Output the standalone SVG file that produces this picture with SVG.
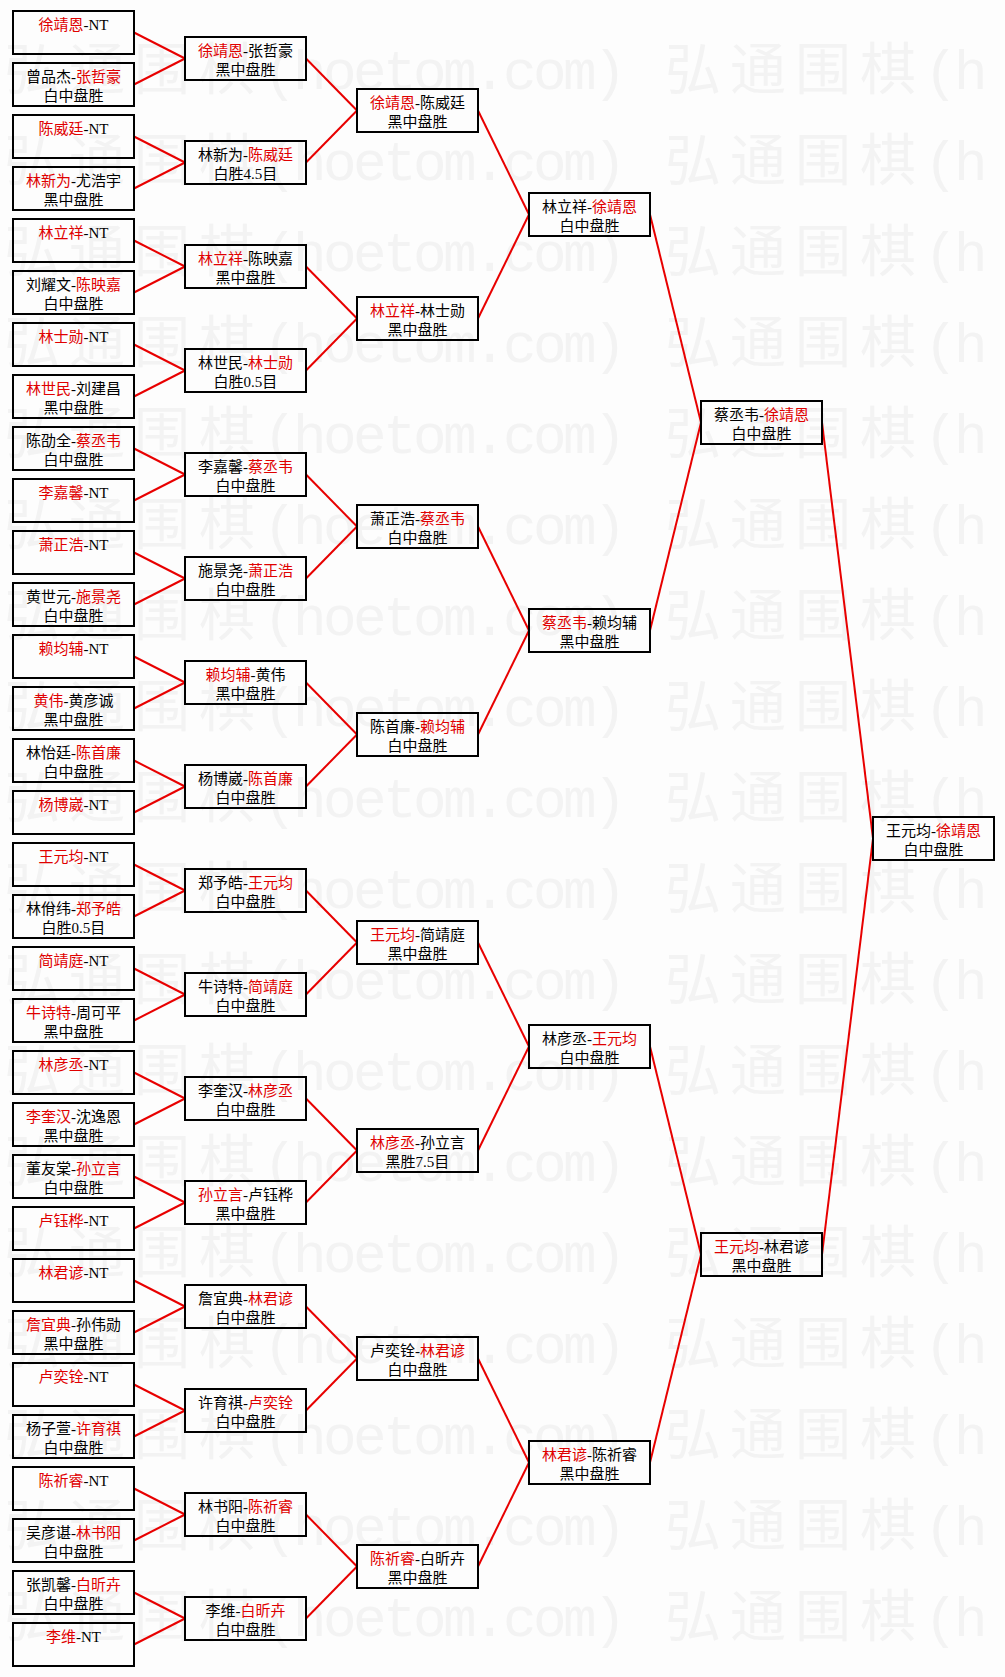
<svg xmlns="http://www.w3.org/2000/svg" xmlns:xlink="http://www.w3.org/1999/xlink" width="1005" height="1677" viewBox="0 0 1005 1677">
<style>
.bg{fill:#fdfdfd}
.wm{font-family:"Liberation Mono","Noto Sans CJK SC",monospace;font-size:56px;fill:#f3f3f3}
.box{fill:none;stroke:#000;stroke-width:2}
.t{font-family:"Liberation Serif","Noto Sans CJK SC",serif;font-size:15px;fill:#000;text-anchor:middle}
.w{fill:#e00000}
.c line{stroke:#e80000;stroke-width:2}
</style>
<defs>
<text id="wmrow" class="wm" x="4 69 134 199 263 293 323 353 383 413 443 473 503 533 563 593 665 730 795 860 924 954" y="0">弘通围棋(hoetom.com)弘通围棋(h</text>
</defs>
<rect class="bg" x="0" y="0" width="1005" height="1677"/>
<g id="watermark">
<use xlink:href="#wmrow" y="89"/><use xlink:href="#wmrow" y="180"/><use xlink:href="#wmrow" y="271"/><use xlink:href="#wmrow" y="362"/><use xlink:href="#wmrow" y="453"/><use xlink:href="#wmrow" y="544"/><use xlink:href="#wmrow" y="635"/><use xlink:href="#wmrow" y="726"/><use xlink:href="#wmrow" y="817"/><use xlink:href="#wmrow" y="908"/><use xlink:href="#wmrow" y="999"/><use xlink:href="#wmrow" y="1090"/><use xlink:href="#wmrow" y="1181"/><use xlink:href="#wmrow" y="1272"/><use xlink:href="#wmrow" y="1363"/><use xlink:href="#wmrow" y="1454"/><use xlink:href="#wmrow" y="1545"/><use xlink:href="#wmrow" y="1636"/>
</g>
<g id="connectors" class="c">
<line x1="134" y1="32.5" x2="185" y2="58.5"/><line x1="134" y1="84.5" x2="185" y2="58.5"/>
<line x1="134" y1="136.5" x2="185" y2="162.5"/><line x1="134" y1="188.5" x2="185" y2="162.5"/>
<line x1="134" y1="240.5" x2="185" y2="266.5"/><line x1="134" y1="292.5" x2="185" y2="266.5"/>
<line x1="134" y1="344.5" x2="185" y2="370.5"/><line x1="134" y1="396.5" x2="185" y2="370.5"/>
<line x1="134" y1="448.5" x2="185" y2="474.5"/><line x1="134" y1="500.5" x2="185" y2="474.5"/>
<line x1="134" y1="552.5" x2="185" y2="578.5"/><line x1="134" y1="604.5" x2="185" y2="578.5"/>
<line x1="134" y1="656.5" x2="185" y2="682.5"/><line x1="134" y1="708.5" x2="185" y2="682.5"/>
<line x1="134" y1="760.5" x2="185" y2="786.5"/><line x1="134" y1="812.5" x2="185" y2="786.5"/>
<line x1="134" y1="864.5" x2="185" y2="890.5"/><line x1="134" y1="916.5" x2="185" y2="890.5"/>
<line x1="134" y1="968.5" x2="185" y2="994.5"/><line x1="134" y1="1020.5" x2="185" y2="994.5"/>
<line x1="134" y1="1072.5" x2="185" y2="1098.5"/><line x1="134" y1="1124.5" x2="185" y2="1098.5"/>
<line x1="134" y1="1176.5" x2="185" y2="1202.5"/><line x1="134" y1="1228.5" x2="185" y2="1202.5"/>
<line x1="134" y1="1280.5" x2="185" y2="1306.5"/><line x1="134" y1="1332.5" x2="185" y2="1306.5"/>
<line x1="134" y1="1384.5" x2="185" y2="1410.5"/><line x1="134" y1="1436.5" x2="185" y2="1410.5"/>
<line x1="134" y1="1488.5" x2="185" y2="1514.5"/><line x1="134" y1="1540.5" x2="185" y2="1514.5"/>
<line x1="134" y1="1592.5" x2="185" y2="1618.5"/><line x1="134" y1="1644.5" x2="185" y2="1618.5"/>
<line x1="306" y1="58.5" x2="357" y2="110.5"/><line x1="306" y1="162.5" x2="357" y2="110.5"/>
<line x1="306" y1="266.5" x2="357" y2="318.5"/><line x1="306" y1="370.5" x2="357" y2="318.5"/>
<line x1="306" y1="474.5" x2="357" y2="526.5"/><line x1="306" y1="578.5" x2="357" y2="526.5"/>
<line x1="306" y1="682.5" x2="357" y2="734.5"/><line x1="306" y1="786.5" x2="357" y2="734.5"/>
<line x1="306" y1="890.5" x2="357" y2="942.5"/><line x1="306" y1="994.5" x2="357" y2="942.5"/>
<line x1="306" y1="1098.5" x2="357" y2="1150.5"/><line x1="306" y1="1202.5" x2="357" y2="1150.5"/>
<line x1="306" y1="1306.5" x2="357" y2="1358.5"/><line x1="306" y1="1410.5" x2="357" y2="1358.5"/>
<line x1="306" y1="1514.5" x2="357" y2="1566.5"/><line x1="306" y1="1618.5" x2="357" y2="1566.5"/>
<line x1="478" y1="110.5" x2="529" y2="214.5"/><line x1="478" y1="318.5" x2="529" y2="214.5"/>
<line x1="478" y1="526.5" x2="529" y2="630.5"/><line x1="478" y1="734.5" x2="529" y2="630.5"/>
<line x1="478" y1="942.5" x2="529" y2="1046.5"/><line x1="478" y1="1150.5" x2="529" y2="1046.5"/>
<line x1="478" y1="1358.5" x2="529" y2="1462.5"/><line x1="478" y1="1566.5" x2="529" y2="1462.5"/>
<line x1="650" y1="214.5" x2="701" y2="422.5"/><line x1="650" y1="630.5" x2="701" y2="422.5"/>
<line x1="650" y1="1046.5" x2="701" y2="1254.5"/><line x1="650" y1="1462.5" x2="701" y2="1254.5"/>
<line x1="822" y1="422.5" x2="873" y2="838.5"/><line x1="822" y1="1254.5" x2="873" y2="838.5"/>
</g>
<g id="round1">
<g id="n1-0" transform="translate(13,11)"><rect class="box" width="121" height="43"/><text class="t" x="60.5" y="18.5"><tspan class="w">徐靖恩</tspan>-NT</text></g>
<g id="n1-1" transform="translate(13,63)"><rect class="box" width="121" height="43"/><text class="t" x="60.5" y="18.5">曾品杰-<tspan class="w">张哲豪</tspan></text><text class="t" x="60.5" y="38">白中盘胜</text></g>
<g id="n1-2" transform="translate(13,115)"><rect class="box" width="121" height="43"/><text class="t" x="60.5" y="18.5"><tspan class="w">陈威廷</tspan>-NT</text></g>
<g id="n1-3" transform="translate(13,167)"><rect class="box" width="121" height="43"/><text class="t" x="60.5" y="18.5"><tspan class="w">林新为</tspan>-尤浩宇</text><text class="t" x="60.5" y="38">黑中盘胜</text></g>
<g id="n1-4" transform="translate(13,219)"><rect class="box" width="121" height="43"/><text class="t" x="60.5" y="18.5"><tspan class="w">林立祥</tspan>-NT</text></g>
<g id="n1-5" transform="translate(13,271)"><rect class="box" width="121" height="43"/><text class="t" x="60.5" y="18.5">刘耀文-<tspan class="w">陈映嘉</tspan></text><text class="t" x="60.5" y="38">白中盘胜</text></g>
<g id="n1-6" transform="translate(13,323)"><rect class="box" width="121" height="43"/><text class="t" x="60.5" y="18.5"><tspan class="w">林士勋</tspan>-NT</text></g>
<g id="n1-7" transform="translate(13,375)"><rect class="box" width="121" height="43"/><text class="t" x="60.5" y="18.5"><tspan class="w">林世民</tspan>-刘建昌</text><text class="t" x="60.5" y="38">黑中盘胜</text></g>
<g id="n1-8" transform="translate(13,427)"><rect class="box" width="121" height="43"/><text class="t" x="60.5" y="18.5">陈劭全-<tspan class="w">蔡丞韦</tspan></text><text class="t" x="60.5" y="38">白中盘胜</text></g>
<g id="n1-9" transform="translate(13,479)"><rect class="box" width="121" height="43"/><text class="t" x="60.5" y="18.5"><tspan class="w">李嘉馨</tspan>-NT</text></g>
<g id="n1-10" transform="translate(13,531)"><rect class="box" width="121" height="43"/><text class="t" x="60.5" y="18.5"><tspan class="w">萧正浩</tspan>-NT</text></g>
<g id="n1-11" transform="translate(13,583)"><rect class="box" width="121" height="43"/><text class="t" x="60.5" y="18.5">黄世元-<tspan class="w">施景尧</tspan></text><text class="t" x="60.5" y="38">白中盘胜</text></g>
<g id="n1-12" transform="translate(13,635)"><rect class="box" width="121" height="43"/><text class="t" x="60.5" y="18.5"><tspan class="w">赖均辅</tspan>-NT</text></g>
<g id="n1-13" transform="translate(13,687)"><rect class="box" width="121" height="43"/><text class="t" x="60.5" y="18.5"><tspan class="w">黄伟</tspan>-黄彦诚</text><text class="t" x="60.5" y="38">黑中盘胜</text></g>
<g id="n1-14" transform="translate(13,739)"><rect class="box" width="121" height="43"/><text class="t" x="60.5" y="18.5">林怡廷-<tspan class="w">陈首廉</tspan></text><text class="t" x="60.5" y="38">白中盘胜</text></g>
<g id="n1-15" transform="translate(13,791)"><rect class="box" width="121" height="43"/><text class="t" x="60.5" y="18.5"><tspan class="w">杨博崴</tspan>-NT</text></g>
<g id="n1-16" transform="translate(13,843)"><rect class="box" width="121" height="43"/><text class="t" x="60.5" y="18.5"><tspan class="w">王元均</tspan>-NT</text></g>
<g id="n1-17" transform="translate(13,895)"><rect class="box" width="121" height="43"/><text class="t" x="60.5" y="18.5">林佾纬-<tspan class="w">郑予皓</tspan></text><text class="t" x="60.5" y="38">白胜0.5目</text></g>
<g id="n1-18" transform="translate(13,947)"><rect class="box" width="121" height="43"/><text class="t" x="60.5" y="18.5"><tspan class="w">简靖庭</tspan>-NT</text></g>
<g id="n1-19" transform="translate(13,999)"><rect class="box" width="121" height="43"/><text class="t" x="60.5" y="18.5"><tspan class="w">牛诗特</tspan>-周可平</text><text class="t" x="60.5" y="38">黑中盘胜</text></g>
<g id="n1-20" transform="translate(13,1051)"><rect class="box" width="121" height="43"/><text class="t" x="60.5" y="18.5"><tspan class="w">林彦丞</tspan>-NT</text></g>
<g id="n1-21" transform="translate(13,1103)"><rect class="box" width="121" height="43"/><text class="t" x="60.5" y="18.5"><tspan class="w">李奎汉</tspan>-沈逸恩</text><text class="t" x="60.5" y="38">黑中盘胜</text></g>
<g id="n1-22" transform="translate(13,1155)"><rect class="box" width="121" height="43"/><text class="t" x="60.5" y="18.5">董友棠-<tspan class="w">孙立言</tspan></text><text class="t" x="60.5" y="38">白中盘胜</text></g>
<g id="n1-23" transform="translate(13,1207)"><rect class="box" width="121" height="43"/><text class="t" x="60.5" y="18.5"><tspan class="w">卢钰桦</tspan>-NT</text></g>
<g id="n1-24" transform="translate(13,1259)"><rect class="box" width="121" height="43"/><text class="t" x="60.5" y="18.5"><tspan class="w">林君谚</tspan>-NT</text></g>
<g id="n1-25" transform="translate(13,1311)"><rect class="box" width="121" height="43"/><text class="t" x="60.5" y="18.5"><tspan class="w">詹宜典</tspan>-孙伟勋</text><text class="t" x="60.5" y="38">黑中盘胜</text></g>
<g id="n1-26" transform="translate(13,1363)"><rect class="box" width="121" height="43"/><text class="t" x="60.5" y="18.5"><tspan class="w">卢奕铨</tspan>-NT</text></g>
<g id="n1-27" transform="translate(13,1415)"><rect class="box" width="121" height="43"/><text class="t" x="60.5" y="18.5">杨子萱-<tspan class="w">许育祺</tspan></text><text class="t" x="60.5" y="38">白中盘胜</text></g>
<g id="n1-28" transform="translate(13,1467)"><rect class="box" width="121" height="43"/><text class="t" x="60.5" y="18.5"><tspan class="w">陈祈睿</tspan>-NT</text></g>
<g id="n1-29" transform="translate(13,1519)"><rect class="box" width="121" height="43"/><text class="t" x="60.5" y="18.5">吴彦谌-<tspan class="w">林书阳</tspan></text><text class="t" x="60.5" y="38">白中盘胜</text></g>
<g id="n1-30" transform="translate(13,1571)"><rect class="box" width="121" height="43"/><text class="t" x="60.5" y="18.5">张凯馨-<tspan class="w">白昕卉</tspan></text><text class="t" x="60.5" y="38">白中盘胜</text></g>
<g id="n1-31" transform="translate(13,1623)"><rect class="box" width="121" height="43"/><text class="t" x="60.5" y="18.5"><tspan class="w">李维</tspan>-NT</text></g>
</g>
<g id="round2">
<g id="n2-0" transform="translate(185,37)"><rect class="box" width="121" height="43"/><text class="t" x="60.5" y="18.5"><tspan class="w">徐靖恩</tspan>-张哲豪</text><text class="t" x="60.5" y="38">黑中盘胜</text></g>
<g id="n2-1" transform="translate(185,141)"><rect class="box" width="121" height="43"/><text class="t" x="60.5" y="18.5">林新为-<tspan class="w">陈威廷</tspan></text><text class="t" x="60.5" y="38">白胜4.5目</text></g>
<g id="n2-2" transform="translate(185,245)"><rect class="box" width="121" height="43"/><text class="t" x="60.5" y="18.5"><tspan class="w">林立祥</tspan>-陈映嘉</text><text class="t" x="60.5" y="38">黑中盘胜</text></g>
<g id="n2-3" transform="translate(185,349)"><rect class="box" width="121" height="43"/><text class="t" x="60.5" y="18.5">林世民-<tspan class="w">林士勋</tspan></text><text class="t" x="60.5" y="38">白胜0.5目</text></g>
<g id="n2-4" transform="translate(185,453)"><rect class="box" width="121" height="43"/><text class="t" x="60.5" y="18.5">李嘉馨-<tspan class="w">蔡丞韦</tspan></text><text class="t" x="60.5" y="38">白中盘胜</text></g>
<g id="n2-5" transform="translate(185,557)"><rect class="box" width="121" height="43"/><text class="t" x="60.5" y="18.5">施景尧-<tspan class="w">萧正浩</tspan></text><text class="t" x="60.5" y="38">白中盘胜</text></g>
<g id="n2-6" transform="translate(185,661)"><rect class="box" width="121" height="43"/><text class="t" x="60.5" y="18.5"><tspan class="w">赖均辅</tspan>-黄伟</text><text class="t" x="60.5" y="38">黑中盘胜</text></g>
<g id="n2-7" transform="translate(185,765)"><rect class="box" width="121" height="43"/><text class="t" x="60.5" y="18.5">杨博崴-<tspan class="w">陈首廉</tspan></text><text class="t" x="60.5" y="38">白中盘胜</text></g>
<g id="n2-8" transform="translate(185,869)"><rect class="box" width="121" height="43"/><text class="t" x="60.5" y="18.5">郑予皓-<tspan class="w">王元均</tspan></text><text class="t" x="60.5" y="38">白中盘胜</text></g>
<g id="n2-9" transform="translate(185,973)"><rect class="box" width="121" height="43"/><text class="t" x="60.5" y="18.5">牛诗特-<tspan class="w">简靖庭</tspan></text><text class="t" x="60.5" y="38">白中盘胜</text></g>
<g id="n2-10" transform="translate(185,1077)"><rect class="box" width="121" height="43"/><text class="t" x="60.5" y="18.5">李奎汉-<tspan class="w">林彦丞</tspan></text><text class="t" x="60.5" y="38">白中盘胜</text></g>
<g id="n2-11" transform="translate(185,1181)"><rect class="box" width="121" height="43"/><text class="t" x="60.5" y="18.5"><tspan class="w">孙立言</tspan>-卢钰桦</text><text class="t" x="60.5" y="38">黑中盘胜</text></g>
<g id="n2-12" transform="translate(185,1285)"><rect class="box" width="121" height="43"/><text class="t" x="60.5" y="18.5">詹宜典-<tspan class="w">林君谚</tspan></text><text class="t" x="60.5" y="38">白中盘胜</text></g>
<g id="n2-13" transform="translate(185,1389)"><rect class="box" width="121" height="43"/><text class="t" x="60.5" y="18.5">许育祺-<tspan class="w">卢奕铨</tspan></text><text class="t" x="60.5" y="38">白中盘胜</text></g>
<g id="n2-14" transform="translate(185,1493)"><rect class="box" width="121" height="43"/><text class="t" x="60.5" y="18.5">林书阳-<tspan class="w">陈祈睿</tspan></text><text class="t" x="60.5" y="38">白中盘胜</text></g>
<g id="n2-15" transform="translate(185,1597)"><rect class="box" width="121" height="43"/><text class="t" x="60.5" y="18.5">李维-<tspan class="w">白昕卉</tspan></text><text class="t" x="60.5" y="38">白中盘胜</text></g>
</g>
<g id="round3">
<g id="n3-0" transform="translate(357,89)"><rect class="box" width="121" height="43"/><text class="t" x="60.5" y="18.5"><tspan class="w">徐靖恩</tspan>-陈威廷</text><text class="t" x="60.5" y="38">黑中盘胜</text></g>
<g id="n3-1" transform="translate(357,297)"><rect class="box" width="121" height="43"/><text class="t" x="60.5" y="18.5"><tspan class="w">林立祥</tspan>-林士勋</text><text class="t" x="60.5" y="38">黑中盘胜</text></g>
<g id="n3-2" transform="translate(357,505)"><rect class="box" width="121" height="43"/><text class="t" x="60.5" y="18.5">萧正浩-<tspan class="w">蔡丞韦</tspan></text><text class="t" x="60.5" y="38">白中盘胜</text></g>
<g id="n3-3" transform="translate(357,713)"><rect class="box" width="121" height="43"/><text class="t" x="60.5" y="18.5">陈首廉-<tspan class="w">赖均辅</tspan></text><text class="t" x="60.5" y="38">白中盘胜</text></g>
<g id="n3-4" transform="translate(357,921)"><rect class="box" width="121" height="43"/><text class="t" x="60.5" y="18.5"><tspan class="w">王元均</tspan>-简靖庭</text><text class="t" x="60.5" y="38">黑中盘胜</text></g>
<g id="n3-5" transform="translate(357,1129)"><rect class="box" width="121" height="43"/><text class="t" x="60.5" y="18.5"><tspan class="w">林彦丞</tspan>-孙立言</text><text class="t" x="60.5" y="38">黑胜7.5目</text></g>
<g id="n3-6" transform="translate(357,1337)"><rect class="box" width="121" height="43"/><text class="t" x="60.5" y="18.5">卢奕铨-<tspan class="w">林君谚</tspan></text><text class="t" x="60.5" y="38">白中盘胜</text></g>
<g id="n3-7" transform="translate(357,1545)"><rect class="box" width="121" height="43"/><text class="t" x="60.5" y="18.5"><tspan class="w">陈祈睿</tspan>-白昕卉</text><text class="t" x="60.5" y="38">黑中盘胜</text></g>
</g>
<g id="round4">
<g id="n4-0" transform="translate(529,193)"><rect class="box" width="121" height="43"/><text class="t" x="60.5" y="18.5">林立祥-<tspan class="w">徐靖恩</tspan></text><text class="t" x="60.5" y="38">白中盘胜</text></g>
<g id="n4-1" transform="translate(529,609)"><rect class="box" width="121" height="43"/><text class="t" x="60.5" y="18.5"><tspan class="w">蔡丞韦</tspan>-赖均辅</text><text class="t" x="60.5" y="38">黑中盘胜</text></g>
<g id="n4-2" transform="translate(529,1025)"><rect class="box" width="121" height="43"/><text class="t" x="60.5" y="18.5">林彦丞-<tspan class="w">王元均</tspan></text><text class="t" x="60.5" y="38">白中盘胜</text></g>
<g id="n4-3" transform="translate(529,1441)"><rect class="box" width="121" height="43"/><text class="t" x="60.5" y="18.5"><tspan class="w">林君谚</tspan>-陈祈睿</text><text class="t" x="60.5" y="38">黑中盘胜</text></g>
</g>
<g id="round5">
<g id="n5-0" transform="translate(701,401)"><rect class="box" width="121" height="43"/><text class="t" x="60.5" y="18.5">蔡丞韦-<tspan class="w">徐靖恩</tspan></text><text class="t" x="60.5" y="38">白中盘胜</text></g>
<g id="n5-1" transform="translate(701,1233)"><rect class="box" width="121" height="43"/><text class="t" x="60.5" y="18.5"><tspan class="w">王元均</tspan>-林君谚</text><text class="t" x="60.5" y="38">黑中盘胜</text></g>
</g>
<g id="final">
<g id="n6-0" transform="translate(873,817)"><rect class="box" width="121" height="43"/><text class="t" x="60.5" y="18.5">王元均-<tspan class="w">徐靖恩</tspan></text><text class="t" x="60.5" y="38">白中盘胜</text></g>
</g>
</svg>
